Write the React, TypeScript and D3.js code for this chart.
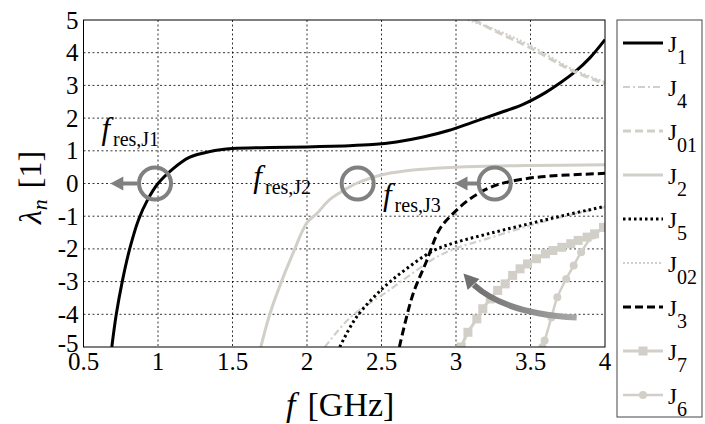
import React from "react";
import * as d3 from "d3";

type P = [number, number];

const xTicks = [0.5, 1, 1.5, 2, 2.5, 3, 3.5, 4];
const yTicks = [-5, -4, -3, -2, -1, 0, 1, 2, 3, 4, 5];

const J1: P[] = [[0.69,-5],[0.72,-4],[0.76,-3],[0.81,-2],[0.87,-1.1],[0.93,-0.5],[1.0,0],[1.1,0.45],[1.21,0.8],[1.35,0.98],[1.5,1.07],[1.75,1.1],[2.0,1.12],[2.25,1.15],[2.44,1.19],[2.6,1.27],[2.78,1.42],[2.95,1.62],[3.11,1.87],[3.3,2.17],[3.45,2.42],[3.6,2.78],[3.7,3.08],[3.8,3.42],[3.9,3.85],[4.0,4.4]];
const J4: P[] = [[2.12,-5],[2.29,-4.1],[2.54,-3.3],[2.8,-2.45],[2.89,-2.2],[3.0,-1.98],[3.2,-1.7],[3.5,-1.28],[3.75,-0.98],[4.0,-0.72]];
const J01: P[] = [[3.12,5],[3.3,4.58],[3.5,4.15],[3.78,3.45],[4.0,3.05]];
const J2: P[] = [[1.69,-5],[1.75,-4],[1.82,-3.1],[1.9,-2.2],[2.0,-1.2],[2.07,-0.9],[2.15,-0.5],[2.25,-0.2],[2.33,0],[2.45,0.2],[2.56,0.32],[2.75,0.43],[3.0,0.5],[3.5,0.55],[4.0,0.57]];
const J5: P[] = [[2.22,-5],[2.33,-4.1],[2.51,-3.2],[2.67,-2.6],[2.85,-2.05],[3.0,-1.8],[3.25,-1.5],[3.5,-1.22],[3.75,-0.95],[4.0,-0.7]];
const J02: P[] = [[3.08,5],[3.3,4.64],[3.5,4.22],[3.78,3.5],[4.0,3.1]];
const J3: P[] = [[2.62,-5],[2.71,-3.4],[2.8,-2.4],[2.89,-1.4],[2.98,-0.92],[3.1,-0.45],[3.23,-0.12],[3.35,0.05],[3.54,0.19],[3.75,0.26],[4.0,0.31]];
const J7: P[] = [[3.035,-5],[3.08,-4.55],[3.14,-4.14],[3.18,-3.83],[3.23,-3.53],[3.28,-3.27],[3.33,-3.07],[3.38,-2.81],[3.43,-2.61],[3.48,-2.46],[3.54,-2.3],[3.6,-2.15],[3.65,-2.05],[3.71,-1.95],[3.77,-1.84],[3.82,-1.74],[3.88,-1.64],[3.93,-1.54],[3.99,-1.34]];
const J6: P[] = [[3.58,-5],[3.595,-4.8],[3.64,-4.1],[3.68,-3.48],[3.74,-2.92],[3.79,-2.51],[3.84,-2.1],[3.92,-1.59],[3.99,-1.35]];

const resCircles: P[] = [[0.98, 0], [2.34, 0], [3.26, 0]];
const resArrows: [number, number, number][] = [[0.86, 0.68, 0], [3.15, 2.99, 0]];
const resLabels = [
  { f: 0.62, lam: 1.35, sub: "res,J1" },
  { f: 1.64, lam: -0.1, sub: "res,J2" },
  { f: 2.51, lam: -0.65, sub: "res,J3" },
];

const LIGHT = "#d2cfc8";

const series = [
  { name: "J", sub: "1", data: J1, color: "#000", w: 3, dash: "", marker: "" },
  { name: "J", sub: "4", data: J4, color: LIGHT, w: 2.2, dash: "7,3,2,3", marker: "" },
  { name: "J", sub: "01", data: J01, color: LIGHT, w: 3, dash: "8,4", marker: "" },
  { name: "J", sub: "2", data: J2, color: LIGHT, w: 3, dash: "", marker: "" },
  { name: "J", sub: "5", data: J5, color: "#000", w: 3, dash: "2.5,3", marker: "" },
  { name: "J", sub: "02", data: J02, color: LIGHT, w: 2, dash: "2,2", marker: "" },
  { name: "J", sub: "3", data: J3, color: "#000", w: 3, dash: "8,4", marker: "" },
  { name: "J", sub: "7", data: J7, color: LIGHT, w: 3, dash: "", marker: "square" },
  { name: "J", sub: "6", data: J6, color: LIGHT, w: 2.5, dash: "", marker: "circle" },
];

const W = 705, H = 424;
const L = 83.5, R = 605, T = 20, B = 347;
const FONT = "serif";

export default function App() {
  const x = d3.scaleLinear().domain([0.5, 4]).range([L, R]);
  const y = d3.scaleLinear().domain([-5, 5]).range([B, T]);
  const line = d3.line<P>().x(d => x(d[0])).y(d => y(d[1])).curve(d3.curveCatmullRom.alpha(0.5));

  const arrowStart: P = [3.81, -4.1];
  const arrowCtrl: P = [3.33, -3.98];
  const arrowEnd: P = [3.12, -3.1];
  const arrowTip: P = [3.05, -2.75];
  const ax = [x(arrowStart[0]), y(arrowStart[1])];
  const ac = [x(arrowCtrl[0]), y(arrowCtrl[1])];
  const ae = [x(arrowEnd[0]), y(arrowEnd[1])];
  const at = [x(arrowTip[0]), y(arrowTip[1])];
  const dx = at[0] - ae[0], dy = at[1] - ae[1];
  const len = Math.hypot(dx, dy);
  const ux = dx / len, uy = dy / len;
  const hb = [at[0] - ux * 15, at[1] - uy * 15];
  const head = `${at[0]},${at[1]} ${hb[0] - uy * 8},${hb[1] + ux * 8} ${hb[0] + uy * 8},${hb[1] - ux * 8}`;

  const legX = 617, legY = 20, legW = 85, legH = 397;
  const legStep = 44, legFirst = 43;

  return (
    <svg width={W} height={H} style={{ position: "absolute", left: 0, top: 0, background: "#fff", fontFamily: FONT }}>
      <defs>
        <clipPath id="plot"><rect x={L} y={T} width={R - L} height={B - T} /></clipPath>
        <linearGradient id="arrg" x1="1" y1="0" x2="0" y2="0">
          <stop offset="0" stopColor="#a8a8a8" />
          <stop offset="1" stopColor="#707070" />
        </linearGradient>
      </defs>
      <rect width={W} height={H} fill="#fff" />
      {xTicks.slice(1, -1).map(t => (
        <line key={"gx" + t} x1={x(t)} x2={x(t)} y1={T} y2={B} stroke="#000" strokeWidth={0.8} strokeDasharray="2,2.5" />
      ))}
      {yTicks.slice(1, -1).map(t => (
        <line key={"gy" + t} x1={L} x2={R} y1={y(t)} y2={y(t)} stroke="#000" strokeWidth={0.8} strokeDasharray="2,2.5" />
      ))}
      <g clipPath="url(#plot)">
        {series.map((s, i) => (
          <g key={i}>
            <path d={line(s.data) || ""} fill="none" stroke={s.color} strokeWidth={s.w} strokeDasharray={s.dash} strokeLinejoin="round" />
            {s.marker === "square" && s.data.map((d, j) => (
              <rect key={j} x={x(d[0]) - 4.5} y={y(d[1]) - 4.5} width={9} height={9} fill={LIGHT} />
            ))}
            {s.marker === "circle" && s.data.map((d, j) => (
              <circle key={j} cx={x(d[0])} cy={y(d[1])} r={4} fill={LIGHT} />
            ))}
          </g>
        ))}
      </g>
      <rect x={L} y={T} width={R - L} height={B - T} fill="none" stroke="#000" strokeWidth={1} />
      {xTicks.map(t => (
        <text key={"tx" + t} x={x(t)} y={B + 23} fontSize={25} textAnchor="middle" fontFamily={FONT}>{t}</text>
      ))}
      {yTicks.map(t => (
        <text key={"ty" + t} x={L - 5} y={y(t) + (t === -5 ? 5 : 8.5)} fontSize={25} textAnchor="end" fontFamily={FONT}>{t}</text>
      ))}
      <text x={(L + R) / 2 - 4} y={416} fontSize={34} textAnchor="middle" fontFamily={FONT}>
        <tspan fontStyle="italic">f</tspan>
        <tspan dx={12}>[GHz]</tspan>
      </text>
      <text transform={`translate(41, ${(T + B) / 2 + 4}) rotate(-90)`} fontSize={32} textAnchor="middle" fontFamily={FONT}>
        <tspan fontStyle="italic">λ</tspan>
        <tspan fontStyle="italic" fontSize={22} dy={6}>n</tspan>
        <tspan dx={11} dy={-6}>[1]</tspan>
      </text>
      {resArrows.map((a, i) => {
        const x0 = x(a[0]), x1 = x(a[1]), yy = y(a[2]);
        return (
          <g key={"ar" + i}>
            <line x1={x0} x2={x1 + 10} y1={yy} y2={yy} stroke="#808080" strokeWidth={4} />
            <polygon points={`${x1},${yy} ${x1 + 13},${yy - 7} ${x1 + 13},${yy + 7}`} fill="#808080" />
          </g>
        );
      })}
      {resCircles.map((c, i) => (
        <circle key={"rc" + i} cx={x(c[0])} cy={y(c[1])} r={16} fill="none" stroke="#808080" strokeWidth={4} />
      ))}
      {resLabels.map((l, i) => (
        <text key={"rl" + i} x={x(l.f)} y={y(l.lam)} fontSize={31} fontFamily={FONT}>
          <tspan fontStyle="italic">f</tspan>
          <tspan fontSize={20} dx={3} dy={7}>{l.sub}</tspan>
        </text>
      ))}
      <path d={`M${ax[0]},${ax[1]} Q${ac[0]},${ac[1]} ${ae[0]},${ae[1]}`} fill="none" stroke="url(#arrg)" strokeWidth={6} />
      <polygon points={head} fill="#707070" />
      <rect x={legX} y={legY} width={legW} height={legH} fill="#fff" stroke="#444" strokeWidth={1} />
      {series.map((s, i) => {
        const ly = legFirst + i * legStep;
        return (
          <g key={"lg" + i}>
            <line x1={623} x2={663} y1={ly} y2={ly} stroke={s.color} strokeWidth={s.w} strokeDasharray={s.dash} />
            {s.marker === "square" && <rect x={643 - 4.5} y={ly - 4.5} width={9} height={9} fill={LIGHT} />}
            {s.marker === "circle" && <circle cx={643} cy={ly} r={4} fill={LIGHT} />}
            <text x={668} y={ly + 9} fontSize={23} fontFamily={FONT}>
              {s.name}
              <tspan fontSize={20} dy={12}>{s.sub}</tspan>
            </text>
          </g>
        );
      })}
    </svg>
  );
}
